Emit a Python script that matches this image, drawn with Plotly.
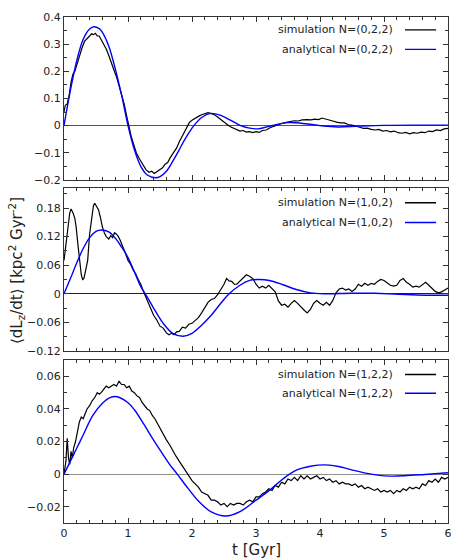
import plotly.graph_objects as go

# ---- panel 1: N=(0,2,2) ----
t_sim1 = [0.0, 0.02, 0.05, 0.08, 0.11, 0.14, 0.17, 0.2, 0.24, 0.28, 0.32, 0.36, 0.4, 0.43, 0.46, 0.49,
          0.52, 0.55, 0.58, 0.62, 0.66, 0.7, 0.74, 0.78, 0.82, 0.86, 0.9, 0.94, 0.98, 1.01, 1.05, 1.09,
          1.13, 1.18, 1.23, 1.28, 1.33, 1.37, 1.41, 1.45, 1.5, 1.54, 1.58, 1.62, 1.66, 1.71, 1.76, 1.8,
          1.84, 1.88, 1.92, 1.96, 2.0, 2.05, 2.1, 2.15, 2.2, 2.25, 2.3, 2.35, 2.4, 2.45, 2.5, 2.55, 2.6,
          2.65, 2.7, 2.75, 2.8, 2.85, 2.9, 2.95, 3.0, 3.05, 3.1, 3.16, 3.22, 3.28, 3.34, 3.4, 3.47, 3.54,
          3.6, 3.66, 3.72, 3.8, 3.86, 3.92, 3.98, 4.03, 4.08, 4.14, 4.2, 4.26, 4.32, 4.38, 4.44, 4.5,
          4.56, 4.62, 4.68, 4.74, 4.8, 4.86, 4.92, 4.98, 5.04, 5.1, 5.16, 5.22, 5.28, 5.34, 5.4, 5.46,
          5.52, 5.58, 5.64, 5.7, 5.76, 5.82, 5.88, 5.94, 6.0]
y_sim1 = [0.05, 0.075, 0.08, 0.11, 0.16, 0.19, 0.2, 0.225, 0.258, 0.285, 0.31, 0.322, 0.33, 0.338,
          0.335, 0.34, 0.33, 0.33, 0.318, 0.3, 0.282, 0.258, 0.235, 0.205, 0.18, 0.148, 0.118, 0.08,
          0.035, 0.0, -0.04, -0.07, -0.1, -0.123, -0.145, -0.162, -0.172, -0.168, -0.176, -0.17, -0.162,
          -0.155, -0.142, -0.136, -0.118, -0.1, -0.082, -0.06, -0.042, -0.02, -0.002, 0.012, 0.02, 0.028,
          0.034, 0.04, 0.043, 0.048, 0.044, 0.04, 0.032, 0.022, 0.012, 0.004, -0.004, -0.01, -0.016,
          -0.02, -0.018, -0.024, -0.022, -0.026, -0.022, -0.025, -0.018, -0.016, -0.008, -0.002, 0.004,
          0.008, 0.012, 0.016, 0.018, 0.017, 0.021, 0.022, 0.021, 0.024, 0.022, 0.028, 0.024, 0.02,
          0.017, 0.013, 0.01, 0.01, 0.004, 0.002, -0.003, -0.006, -0.01, -0.009, -0.014, -0.016, -0.014,
          -0.02, -0.018, -0.023, -0.02, -0.026, -0.028, -0.025, -0.03, -0.026, -0.028, -0.024, -0.026,
          -0.02, -0.022, -0.016, -0.018, -0.012, -0.01]
t_ana1 = [0.0, 0.1, 0.2, 0.3, 0.4, 0.47, 0.55, 0.6, 0.7, 0.8, 0.9, 1.0, 1.1, 1.2, 1.3, 1.43, 1.5,
          1.6, 1.7, 1.8, 1.9, 2.03, 2.15, 2.29, 2.45, 2.6, 2.76, 2.9, 3.03, 3.2, 3.5, 3.8, 4.0, 4.28,
          4.6, 5.0, 5.5, 6.0]
y_ana1 = [0.0, 0.13, 0.24, 0.318, 0.356, 0.364, 0.357, 0.343, 0.292, 0.21, 0.112, 0.0, -0.089, -0.15,
          -0.182, -0.192, -0.188, -0.168, -0.131, -0.089, -0.046, 0.0, 0.03, 0.045, 0.038, 0.02, 0.0,
          -0.009, -0.012, -0.003, 0.011, 0.006, 0.0, -0.005, -0.002, 0.001, 0.002, 0.002]

# ---- panel 2: N=(1,0,2) ----
t_sim2 = [0.0, 0.03, 0.06, 0.09, 0.11, 0.14, 0.17, 0.19, 0.22, 0.25, 0.27, 0.29, 0.31, 0.34, 0.37,
          0.4, 0.43, 0.46, 0.48, 0.51, 0.54, 0.57, 0.6, 0.63, 0.66, 0.7, 0.73, 0.76, 0.79, 0.82, 0.85,
          0.88, 0.92, 0.96, 1.0, 1.04, 1.08, 1.12, 1.16, 1.2, 1.25, 1.3, 1.35, 1.4, 1.45, 1.5, 1.55,
          1.6, 1.64, 1.68, 1.72, 1.76, 1.8, 1.85, 1.9, 1.95, 2.0, 2.05, 2.1, 2.15, 2.2, 2.25, 2.3, 2.35,
          2.4, 2.45, 2.5, 2.54, 2.58, 2.62, 2.66, 2.7, 2.75, 2.8, 2.85, 2.9, 2.95, 3.0, 3.05, 3.1, 3.15,
          3.2, 3.25, 3.3, 3.35, 3.4, 3.45, 3.5, 3.55, 3.6, 3.65, 3.7, 3.75, 3.8, 3.85, 3.9, 3.95, 4.0,
          4.05, 4.1, 4.15, 4.2, 4.25, 4.3, 4.35, 4.4, 4.45, 4.5, 4.55, 4.6, 4.65, 4.7, 4.75, 4.8, 4.85,
          4.9, 4.95, 5.0, 5.05, 5.1, 5.15, 5.2, 5.25, 5.3, 5.35, 5.4, 5.45, 5.5, 5.55, 5.6, 5.65, 5.7,
          5.75, 5.8, 5.85, 5.9, 5.95, 6.0]
y_sim2 = [0.07, 0.1, 0.14, 0.17, 0.178, 0.17, 0.158, 0.14, 0.1, 0.06, 0.04, 0.03, 0.032, 0.05, 0.07,
          0.125, 0.16, 0.185, 0.19, 0.182, 0.176, 0.16, 0.14, 0.128, 0.12, 0.115, 0.122, 0.118, 0.128,
          0.125, 0.12, 0.112, 0.1, 0.085, 0.07, 0.062, 0.05, 0.042, 0.03, 0.02, 0.002, -0.015, -0.03,
          -0.045, -0.055, -0.068, -0.072, -0.082, -0.086, -0.083, -0.086, -0.08, -0.079, -0.07, -0.072,
          -0.064, -0.062, -0.055, -0.05, -0.04, -0.028, -0.018, -0.012, -0.01, -0.002, 0.008, 0.02,
          0.032, 0.027, 0.026, 0.02, 0.02, 0.026, 0.032, 0.04, 0.037, 0.032, 0.02, 0.012, 0.016, 0.012,
          0.018, 0.012, 0.004, -0.015, -0.024, -0.022, -0.028, -0.02, -0.014, -0.02, -0.028, -0.034,
          -0.04, -0.033, -0.02, -0.014, -0.02, -0.024, -0.018, -0.024, -0.014, 0.002, 0.01, 0.012, 0.008,
          0.01, 0.005, 0.01, 0.02, 0.016, 0.022, 0.018, 0.022, 0.02, 0.026, 0.03, 0.028, 0.022, 0.018,
          0.016, 0.018, 0.028, 0.032, 0.024, 0.02, 0.014, 0.016, 0.014, 0.02, 0.024, 0.018, 0.012,
          0.005, 0.002, 0.004, 0.008, 0.012]
t_ana2 = [0.0, 0.1, 0.2, 0.3, 0.4, 0.5, 0.585, 0.7, 0.8, 0.9, 1.0, 1.1, 1.2, 1.27, 1.4, 1.55, 1.7,
          1.86, 2.0, 2.15, 2.3, 2.45, 2.58, 2.75, 2.9, 3.03, 3.21, 3.42, 3.63, 3.85, 4.06, 4.48, 4.85,
          5.22, 5.64, 6.0]
y_ana2 = [0.0, 0.032, 0.065, 0.095, 0.118, 0.131, 0.134, 0.13, 0.117, 0.098, 0.076, 0.046, 0.015,
          0.0, -0.03, -0.062, -0.083, -0.089, -0.083, -0.066, -0.045, -0.02, 0.0, 0.018, 0.028, 0.03,
          0.028, 0.019, 0.009, 0.002, 0.0, 0.001, 0.001, -0.001, -0.003, -0.003]

# ---- panel 3: N=(1,2,2) ----
t_sim3 = [0.0, 0.03, 0.05, 0.07, 0.09, 0.11, 0.13, 0.15, 0.18, 0.21, 0.24, 0.27, 0.3, 0.33, 0.36,
          0.4, 0.44, 0.48, 0.52, 0.55, 0.58, 0.62, 0.66, 0.7, 0.74, 0.78, 0.82, 0.86, 0.9, 0.94, 0.98,
          1.02, 1.06, 1.1, 1.14, 1.18, 1.22, 1.26, 1.3, 1.34, 1.38, 1.42, 1.46, 1.5, 1.55, 1.6, 1.65,
          1.7, 1.75, 1.8, 1.85, 1.9, 1.95, 2.0, 2.05, 2.1, 2.15, 2.2, 2.25, 2.3, 2.35, 2.4, 2.45, 2.5,
          2.55, 2.6, 2.65, 2.7, 2.75, 2.8, 2.85, 2.9, 2.95, 3.0, 3.05, 3.1, 3.15, 3.2, 3.25, 3.3, 3.35,
          3.4, 3.45, 3.5, 3.55, 3.6, 3.65, 3.7, 3.75, 3.8, 3.85, 3.9, 3.95, 4.0, 4.05, 4.1, 4.15, 4.2,
          4.25, 4.3, 4.35, 4.4, 4.45, 4.5, 4.55, 4.6, 4.65, 4.7, 4.75, 4.8, 4.85, 4.9, 4.95, 5.0, 5.05,
          5.1, 5.15, 5.2, 5.25, 5.3, 5.35, 5.4, 5.45, 5.5, 5.55, 5.6, 5.65, 5.7, 5.75, 5.8, 5.85, 5.9,
          5.95, 6.0]
y_sim3 = [0.0, 0.008, 0.022, 0.01, 0.006, 0.014, 0.01, 0.016, 0.02, 0.026, 0.032, 0.035, 0.034,
          0.037, 0.04, 0.042, 0.045, 0.047, 0.05, 0.049, 0.05, 0.052, 0.054, 0.053, 0.054, 0.055,
          0.054, 0.057, 0.055, 0.055, 0.053, 0.054, 0.051, 0.05, 0.048, 0.047, 0.044, 0.042, 0.04,
          0.039, 0.036, 0.034, 0.031, 0.028, 0.025, 0.021, 0.018, 0.014, 0.011, 0.008, 0.005, 0.002,
          -0.001, -0.004, -0.006, -0.008, -0.011, -0.012, -0.013, -0.016, -0.016, -0.017, -0.019,
          -0.018, -0.02, -0.018, -0.019, -0.018, -0.018, -0.019, -0.017, -0.016, -0.017, -0.014,
          -0.014, -0.012, -0.011, -0.009, -0.01, -0.007, -0.008, -0.005, -0.006, -0.003, -0.004,
          -0.002, -0.004, -0.001, -0.003, -0.001, -0.003, -0.002, -0.001, -0.003, -0.002, -0.004,
          -0.003, -0.005, -0.004, -0.006, -0.005, -0.006, -0.006, -0.007, -0.006, -0.008, -0.007,
          -0.009, -0.008, -0.009, -0.01, -0.009, -0.011, -0.01, -0.011, -0.01, -0.012, -0.01, -0.011,
          -0.009, -0.01, -0.008, -0.009, -0.008, -0.009, -0.006, -0.007, -0.004, -0.005, -0.003,
          -0.005, -0.002, -0.003, -0.002]
t_ana3 = [0.0, 0.1, 0.2, 0.3, 0.45, 0.6, 0.72, 0.83, 1.0, 1.1, 1.25, 1.4, 1.55, 1.65, 1.77, 1.9, 2.1,
          2.3, 2.53, 2.75, 3.0, 3.21, 3.42, 3.63, 3.85, 4.06, 4.27, 4.48, 4.69, 4.9, 5.11, 5.32, 5.64, 6.0]
y_ana3 = [0.0, 0.008, 0.016, 0.024, 0.036, 0.0435, 0.047, 0.0475, 0.0438, 0.0395, 0.0305, 0.0208,
          0.0118, 0.006, 0.0, -0.0068, -0.0165, -0.0232, -0.0257, -0.023, -0.016, -0.01, -0.003,
          0.0024, 0.0048, 0.0057, 0.0048, 0.0028, 0.0008, -0.0006, -0.0012, -0.001, -0.0002, 0.0008]

labels = ["(0,2,2)", "(1,0,2)", "(1,2,2)"]
y_ranges = [[-0.2, 0.4], [-0.12, 0.222], [-0.03, 0.07]]
y_dticks = [0.1, 0.06, 0.02]
y_minor = [0.05, 0.03, 0.01]
zero_colors = ["#555555", "#222222", "#909090"]
domains = [[0.678, 1.0], [0.340, 0.662], [0.0, 0.322]]

sims = [(t_sim1, y_sim1), (t_sim2, y_sim2), (t_sim3, y_sim3)]
anas = [(t_ana1, y_ana1), (t_ana2, y_ana2), (t_ana3, y_ana3)]

FONT = "DejaVu Sans"
FRAME = "#333333"

fig = go.Figure()
for i in range(3):
    xa = "x" if i == 0 else f"x{i+1}"
    ya = "y" if i == 0 else f"y{i+1}"
    fig.add_trace(go.Scatter(x=sims[i][0], y=sims[i][1], mode="lines", xaxis=xa, yaxis=ya,
                             line=dict(color="black", width=1.2), showlegend=False))
    fig.add_trace(go.Scatter(x=anas[i][0], y=anas[i][1], mode="lines", xaxis=xa, yaxis=ya,
                             line=dict(color="#0000ff", width=1.4, shape="spline", smoothing=1.0),
                             showlegend=False))

layout = dict(
    width=463, height=560,
    margin=dict(l=64, r=15, t=11, b=37),
    paper_bgcolor="white", plot_bgcolor="white",
    font=dict(family=FONT, size=10, color="#222222"),
    showlegend=False,
)
for i in range(3):
    sx = "" if i == 0 else str(i + 1)
    layout["xaxis" + sx] = dict(
        domain=[0, 1], range=[0, 6], dtick=1, anchor="y" + sx,
        showticklabels=(i == 2), ticks="inside", ticklen=5, tickcolor=FRAME,
        showline=True, linecolor=FRAME, linewidth=1, mirror="allticks",
        showgrid=False, zeroline=False,
        minor=dict(ticks="inside", dtick=0.2, ticklen=3, tickcolor=FRAME),
        tickfont=dict(size=11),
        matches="x" if i > 0 else None,
    )
    layout["yaxis" + sx] = dict(
        domain=domains[i], range=y_ranges[i], dtick=y_dticks[i], tick0=0, anchor="x" + sx,
        ticks="inside", ticklen=5, tickcolor=FRAME,
        showline=True, linecolor=FRAME, linewidth=1, mirror="allticks",
        showgrid=False, zeroline=True, zerolinecolor=zero_colors[i], zerolinewidth=1.2,
        minor=dict(ticks="inside", dtick=y_minor[i], tick0=0, ticklen=3, tickcolor=FRAME),
        tickfont=dict(size=11), tickformat="~g",
    )
fig.update_layout(**layout)

# gnuplot-style key: text right-aligned, line sample to its right
key_rows = [(0.9746, 0.936), (0.633, 0.594), (0.2936, 0.2564)]
annotations = []
shapes = []
for i in range(3):
    for j, (name, col) in enumerate([("simulation", "black"), ("analytical", "#0000ff")]):
        yy = key_rows[i][j]
        annotations.append(dict(x=0.862, y=yy, xref="paper", yref="paper", xanchor="right",
                                yanchor="middle", showarrow=False,
                                text=f"{name} N={labels[i]}", font=dict(size=11, color="#222222")))
        shapes.append(dict(type="line", xref="paper", yref="paper", x0=0.888, x1=0.969,
                           y0=yy, y1=yy, line=dict(color=col, width=1.4)))

annotations.append(dict(x=0.5, y=-0.053, xref="paper", yref="paper", showarrow=False,
                        text="t [Gyr]", font=dict(size=15, color="#222222"),
                        xanchor="center", yanchor="middle"))
annotations.append(dict(x=-0.125, y=0.498, xref="paper", yref="paper", showarrow=False,
                        textangle=-90, xanchor="center", yanchor="middle",
                        text="⟨dL<sub>z</sub>/dt⟩ [kpc<sup>2</sup> Gyr<sup>-2</sup>]",
                        font=dict(size=15, color="#222222")))
fig.update_layout(annotations=annotations, shapes=shapes)

fig.write_html("out.html", config={"displayModeBar": False},
               post_script="document.body.style.margin='0px';")
